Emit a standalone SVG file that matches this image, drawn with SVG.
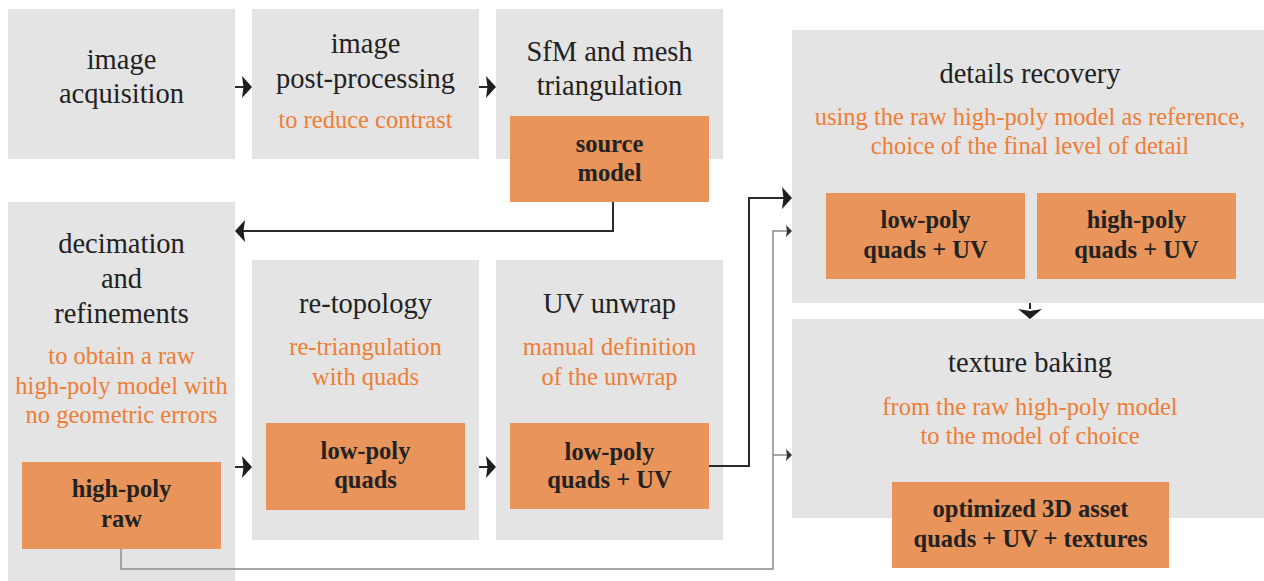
<svg xmlns="http://www.w3.org/2000/svg" width="1264" height="581" viewBox="0 0 1264 581">
<defs>
<style>
.box{fill:#e4e4e4}
.out{fill:#e9945a}
.t{font-family:"Liberation Serif","Times New Roman",serif;font-size:28.5px;fill:#222;text-anchor:middle}
.s{font-family:"Liberation Serif","Times New Roman",serif;font-size:24.5px;fill:#ef7d35;text-anchor:middle}
.b{font-family:"Liberation Serif","Times New Roman",serif;font-size:24.5px;font-weight:bold;fill:#222;text-anchor:middle}
.c{fill:none;stroke:#2a2a2a;stroke-width:2}
.g{fill:none;stroke:#8a8a8a;stroke-width:1.5}
</style>
<marker id="big" viewBox="0 0 10 22" refX="2" refY="11" markerWidth="10" markerHeight="22" markerUnits="userSpaceOnUse" orient="auto">
<path d="M0,0 L10,11 L0,22 L1.5,11 Z" fill="#1e1e1e"/>
</marker>
<marker id="small" viewBox="0 0 6 12" refX="1" refY="6" markerWidth="6" markerHeight="12" markerUnits="userSpaceOnUse" orient="auto">
<path d="M0,0 L6,6 L0,12 L1,6 Z" fill="#333"/>
</marker>
<marker id="down" viewBox="0 0 10 24" refX="0" refY="12" markerWidth="10" markerHeight="24" markerUnits="userSpaceOnUse" orient="auto">
<path d="M0,0 L10,12 L0,24 L2,12 Z" fill="#1e1e1e"/>
</marker>
</defs>
<rect width="1264" height="581" fill="#ffffff"/>

<g id="image-acquisition">
<rect class="box" x="8" y="9" width="227" height="150"/>
<text class="t" x="121.5" y="69">image</text>
<text class="t" x="121.5" y="103">acquisition</text>
</g>

<g id="image-post-processing">
<rect class="box" x="252" y="9" width="227" height="150"/>
<text class="t" x="365.5" y="53">image</text>
<text class="t" x="365.5" y="88">post-processing</text>
<text class="s" x="365.5" y="128">to reduce contrast</text>
</g>

<g id="sfm">
<rect class="box" x="496" y="9" width="227" height="150"/>
<text class="t" x="609.5" y="61">SfM and mesh</text>
<text class="t" x="609.5" y="95">triangulation</text>
</g>
<g id="source-model">
<rect class="out" x="510" y="116" width="199" height="86"/>
<text class="b" x="609.5" y="152">source</text>
<text class="b" x="609.5" y="181">model</text>
</g>

<g id="decimation">
<rect class="box" x="8" y="202" width="227" height="379"/>
<text class="t" x="121.5" y="253">decimation</text>
<text class="t" x="121.5" y="288">and</text>
<text class="t" x="121.5" y="323">refinements</text>
<text class="s" x="121.5" y="364">to obtain a raw</text>
<text class="s" x="121.5" y="394">high-poly model with</text>
<text class="s" x="121.5" y="423">no geometric errors</text>
</g>
<g id="high-poly-raw">
<rect class="out" x="22" y="462" width="199" height="87"/>
<text class="b" x="121.5" y="497">high-poly</text>
<text class="b" x="121.5" y="527">raw</text>
</g>

<g id="re-topology">
<rect class="box" x="252" y="260" width="227" height="280"/>
<text class="t" x="365.5" y="313">re-topology</text>
<text class="s" x="365.5" y="355">re-triangulation</text>
<text class="s" x="365.5" y="385">with quads</text>
</g>
<g id="low-poly-quads">
<rect class="out" x="266" y="423" width="199" height="87"/>
<text class="b" x="365.5" y="459">low-poly</text>
<text class="b" x="365.5" y="488">quads</text>
</g>

<g id="uv-unwrap">
<rect class="box" x="496" y="260" width="227" height="280"/>
<text class="t" x="609.5" y="313">UV unwrap</text>
<text class="s" x="609.5" y="355">manual definition</text>
<text class="s" x="609.5" y="385">of the unwrap</text>
</g>
<g id="low-poly-quads-uv">
<rect class="out" x="510" y="423" width="199" height="86"/>
<text class="b" x="609.5" y="460">low-poly</text>
<text class="b" x="609.5" y="488">quads + UV</text>
</g>

<g id="details-recovery">
<rect class="box" x="792" y="30" width="472" height="273"/>
<text class="t" x="1030" y="83">details recovery</text>
<text class="s" x="1030" y="125">using the raw high-poly model as reference,</text>
<text class="s" x="1030" y="154">choice of the final level of detail</text>
</g>
<g id="dr-low-poly">
<rect class="out" x="826" y="193" width="199" height="86"/>
<text class="b" x="925.5" y="228">low-poly</text>
<text class="b" x="925.5" y="258">quads + UV</text>
</g>
<g id="dr-high-poly">
<rect class="out" x="1037" y="193" width="199" height="86"/>
<text class="b" x="1136.5" y="228">high-poly</text>
<text class="b" x="1136.5" y="258">quads + UV</text>
</g>

<g id="texture-baking">
<rect class="box" x="792" y="319" width="472" height="199"/>
<text class="t" x="1030" y="372">texture baking</text>
<text class="s" x="1030" y="415">from the raw high-poly model</text>
<text class="s" x="1030" y="444">to the model of choice</text>
</g>
<g id="optimized-asset">
<rect class="out" x="892" y="482" width="277" height="86"/>
<text class="b" x="1030.5" y="517">optimized 3D asset</text>
<text class="b" x="1030.5" y="547">quads + UV + textures</text>
</g>

<g id="connectors">
<path class="c" d="M235,87 H244" marker-end="url(#big)"/>
<path class="c" d="M479,87 H488" marker-end="url(#big)"/>
<path class="c" d="M613,202 V231 H243" marker-end="url(#big)"/>
<path class="c" d="M235,467 H244" marker-end="url(#big)"/>
<path class="c" d="M479,467 H488" marker-end="url(#big)"/>
<path class="c" d="M709,466 H749 V198 H784" marker-end="url(#big)"/>
<path class="g" d="M121,549 V569 H773 V231 H787" marker-end="url(#small)"/>
<path class="g" d="M773,455 H787" marker-end="url(#small)"/>
<path class="c" d="M1030,303 V309" marker-end="url(#down)"/>
</g>
</svg>
